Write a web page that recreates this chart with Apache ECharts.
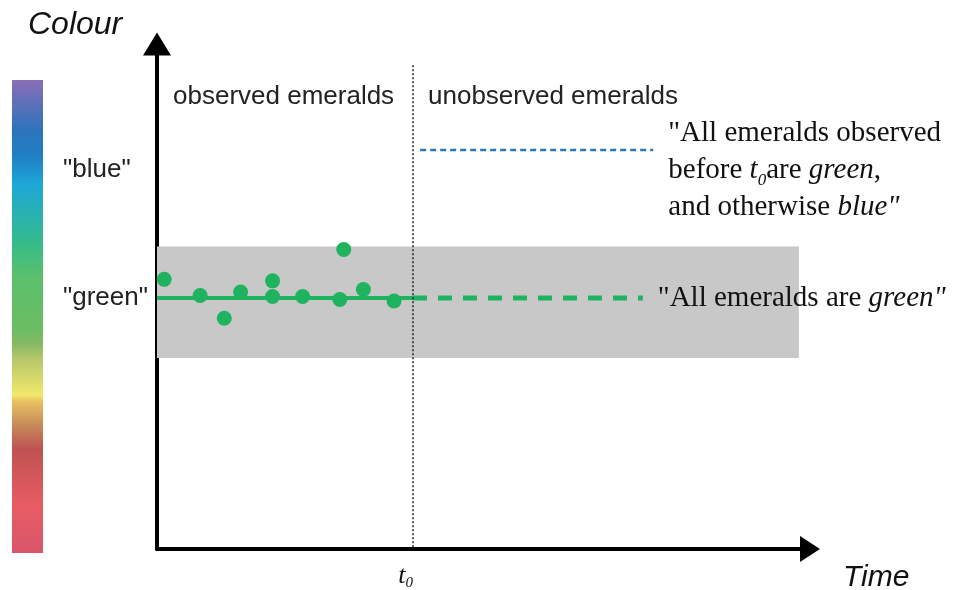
<!DOCTYPE html>
<html lang="en">
<head>
  <meta charset="UTF-8">
  <title>Grue</title>
  <script src="https://cdn.jsdelivr.net/npm/echarts@6/dist/echarts.min.js"></script>
</head>
<body style="margin: 0;">
<div id="main" style="width: 954px; height: 590px;"></div>
<script type="text/javascript">
  // time and colour are both on a 0-100 scale
  const T0 = 39.2
  const observedTime = [1.1, 6.6, 10.3, 12.8, 17.7, 17.7, 22.3, 28.6, 28.0, 31.6, 36.3]
  const observedColour = [53.4, 50.2, 45.7, 50.9, 53.1, 50.0, 50.0, 59.3, 49.4, 51.4, 49.1]
  const greenLevel = 49.7
  const blueLevel = 79.0
  const solidTime = [0, T0]
  const dashedTime = [T0, 74.4]
  const blueTime = [40.3, 76.0]
  const bandTime = [0, 98.3]
  const bandColour = [37.8, 59.9]
  const tLineTop = 95.8
  const colourLabels = ['"blue"', '"green"']
  const colourLabelValues = [75.0, 49.7]
  const spectrumStops = [0, 0.106, 0.16, 0.22, 0.32, 0.36, 0.42, 0.53, 0.56, 0.59, 0.666, 0.68, 0.73, 0.78, 0.9, 1]
  const spectrumColours = ['#8a6db5', '#2c74bd', '#1f7fc4', '#1ea6d8', '#2fb89b', '#3dbd80', '#5cbf6c', '#6cbd62',
    '#8ab864', '#b7c86a', '#f2e86b', '#e9c062', '#c68a5a', '#bf5252', '#e85c63', '#d8566a']

  const GREEN = '#1fb35f'
  const SANS = 'Liberation Sans'
  const SERIF = 'Liberation Serif'

  const serifRich = {
    n: {fontFamily: SERIF, fontSize: 29, color: '#111', lineHeight: 37},
    i: {fontFamily: SERIF, fontSize: 29, fontStyle: 'italic', color: '#111', lineHeight: 37},
    s: {fontFamily: SERIF, fontSize: 17, fontStyle: 'italic', color: '#111', lineHeight: 22, verticalAlign: 'bottom'}
  }

  const myChart = echarts.init(document.getElementById('main'))

  const option = {
    animation: false,
    grid: {left: 157, right: 144, top: 44, bottom: 41, outerBoundsMode: 'none'},
    xAxis: {
      type: 'value', min: 0, max: 100,
      splitLine: {show: false},
      axisTick: {show: false},
      axisLine: {
        onZero: false,
        lineStyle: {color: '#000', width: 4},
        symbol: ['none', 'triangle'],
        symbolSize: [26, 20]
      },
      axisLabel: {
        customValues: [T0],
        margin: 12,
        align: 'right',
        formatter: () => '{t|t}{s|0}',
        rich: {
          t: {fontFamily: SERIF, fontSize: 26, fontStyle: 'italic', color: '#111', lineHeight: 30},
          s: {fontFamily: SERIF, fontSize: 15, fontStyle: 'italic', color: '#111', lineHeight: 18, verticalAlign: 'bottom'}
        }
      }
    },
    yAxis: {
      type: 'value', min: 0, max: 100,
      splitLine: {show: false},
      axisTick: {show: false},
      axisLine: {
        lineStyle: {color: '#000', width: 4},
        symbol: ['none', 'triangle'],
        symbolSize: [28, 23]
      },
      axisLabel: {
        customValues: colourLabelValues,
        margin: 12,
        formatter: v => '{a|' + colourLabels[colourLabelValues.indexOf(v)] + '}',
        rich: {a: {fontFamily: SANS, fontSize: 26, color: '#222', width: 82, align: 'left'}}
      }
    },
    graphic: [
      {
        type: 'rect', shape: {x: 12, y: 80, width: 31, height: 473},
        style: {
          fill: {
            type: 'linear', x: 0, y: 0, x2: 0, y2: 1,
            colorStops: spectrumStops.map((o, i) => ({offset: o, color: spectrumColours[i]}))
          }
        }
      },
      {type: 'text', x: 28, y: 25, style: {text: 'Colour', fontFamily: SANS, fontSize: 32, fontStyle: 'italic', fill: '#111', verticalAlign: 'middle'}},
      {type: 'text', x: 843, y: 578, style: {text: 'Time', fontFamily: SANS, fontSize: 30, fontStyle: 'italic', fill: '#111', verticalAlign: 'middle'}},
      {type: 'text', x: 173, y: 97, style: {text: 'observed emeralds', fontFamily: SANS, fontSize: 26, fill: '#222', verticalAlign: 'middle'}},
      {type: 'text', x: 428, y: 97, style: {text: 'unobserved emeralds', fontFamily: SANS, fontSize: 26, fill: '#222', verticalAlign: 'middle'}}
    ],
    series: [
      {
        name: 'band', type: 'line', data: [], z: 1,
        markArea: {
          silent: true,
          itemStyle: {color: '#c8c8c8', opacity: 1},
          data: [[{coord: [bandTime[0], bandColour[0]]}, {coord: [bandTime[1], bandColour[1]]}]]
        }
      },
      {
        name: 'green so far', type: 'line', z: 3, symbol: 'none',
        lineStyle: {color: GREEN, width: 4},
        data: solidTime.map(t => [t, greenLevel])
      },
      {
        name: 'green forever', type: 'line', z: 3, symbol: 'none',
        lineStyle: {color: GREEN, width: 5, type: [14, 11]},
        data: dashedTime.map(t => [t, greenLevel]),
        endLabel: {
          show: true, distance: 15,
          formatter: '{n|"All emeralds are }{i|green"}',
          rich: serifRich
        }
      },
      {
        name: 'grue', type: 'line', z: 3, symbol: 'none',
        lineStyle: {color: '#2b78b5', width: 2.5, type: [6, 4]},
        data: blueTime.map(t => [t, blueLevel]),
        endLabel: {
          show: true, distance: 15, offset: [0, 20],
          formatter: '{n|"All emeralds observed}\n{n|before }{i|t}{s|0}{n|are }{i|green}{n|,}\n{n|and otherwise }{i|blue"}',
          rich: serifRich
        }
      },
      {
        name: 't0', type: 'line', data: [], z: 4,
        markLine: {
          silent: true, symbol: 'none', label: {show: false},
          lineStyle: {color: '#222', width: 1.5, type: [2, 2]},
          data: [[{coord: [T0, tLineTop]}, {coord: [T0, 0]}]]
        }
      },
      {
        name: 'observed', type: 'scatter', z: 5, symbolSize: 15,
        itemStyle: {color: GREEN, opacity: 1},
        data: observedTime.map((t, i) => [t, observedColour[i]])
      }
    ]
  }

  myChart.setOption(option)
</script>
</body>
</html>
